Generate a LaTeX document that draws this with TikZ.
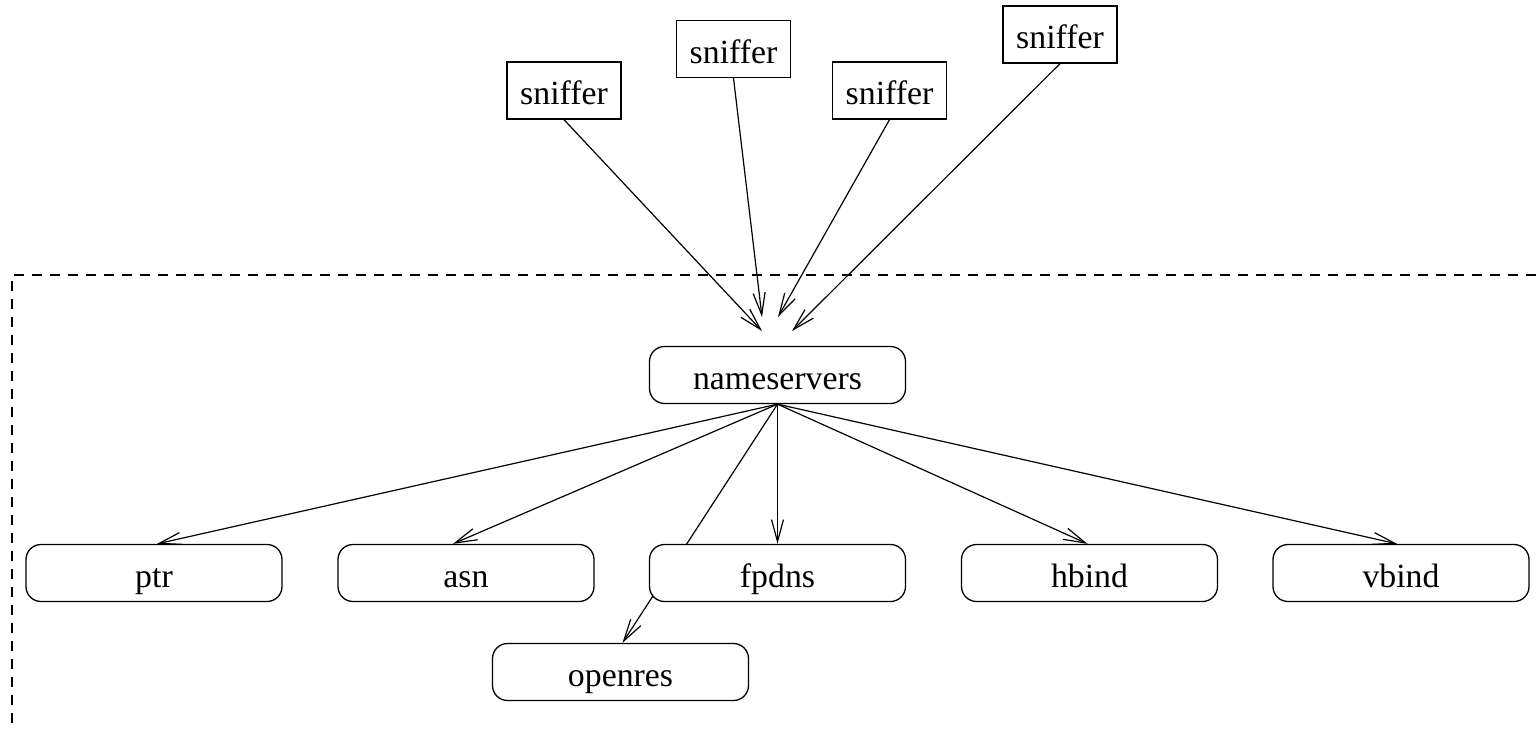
\documentclass[tikz,border=0pt]{standalone}
\usepackage{fontspec}
\setmainfont{Liberation Serif}
\usetikzlibrary{arrows.meta}
\pgfdeclarelayer{background}
\pgfsetlayers{background,main}
\begin{document}
\begin{tikzpicture}[x=0.5pt,y=-0.5pt,
  every node/.style={font=\fontsize{16.9}{19}\selectfont, inner sep=0pt, line width=0.65pt,
    text height=15pt, text depth=1pt},
  snif/.style={draw, fill=white, minimum width=57pt, minimum height=28.5pt},
  proc/.style={draw, fill=white, rounded corners=7.5pt, minimum width=128pt, minimum height=28.5pt},
  conn/.style={line width=0.6pt, -{Straight Barb[length=11pt,width=6pt,line width=0.6pt]}},
  frame/.style={line width=0.6pt, dash pattern=on 5pt off 4pt}]
\useasboundingbox (0,0) rectangle (1536,728);
% sniffers
\node[snif] (s1) at (564,90.5) {sniffer};
\node[snif] (s2) at (733.5,49) {sniffer};
\node[snif] (s3) at (889.5,90.5) {sniffer};
\node[snif] (s4) at (1060,34.5) {sniffer};
% processing nodes
\node[proc] (ns) at (777.5,375) {nameservers};
\node[proc] (ptr) at (154,573) {ptr};
\node[proc] (asn) at (466,573) {asn};
\node[proc] (fpdns) at (777.5,573) {fpdns};
\node[proc] (hbind) at (1089.5,573) {hbind};
\node[proc] (vbind) at (1401,573) {vbind};
\node[proc] (openres) at (620.5,672) {openres};
% free ends of sniffer arrows
\coordinate (t1) at (762,331);
\coordinate (t2) at (762,317);
\coordinate (t3) at (778,317);
\coordinate (t4) at (792,331);
\coordinate (fa) at (1536,275);
\coordinate (fb) at (12,275);
\coordinate (fc) at (12,728);
\draw[frame] (fa) -- (fb) -- (fc);
\draw[conn] (s1.south) -- (t1);
\draw[conn] (s2.south) -- (t2);
\draw[conn] (s3.south) -- (t3);
\draw[conn] (s4.south) -- (t4);
\begin{pgfonlayer}{background}
\draw[conn] (ns.south) -- ([xshift=1.5pt]ptr.north);
\draw[conn] (ns.south) -- ([xshift=-6.5pt]asn.north);
\draw[conn] (ns.south) -- (fpdns.north);
\draw[conn] (ns.south) -- ([xshift=-1pt]hbind.north);
\draw[conn] (ns.south) -- ([xshift=-2pt]vbind.north);
\draw[conn] (ns.south) -- ([xshift=1pt]openres.north);
\end{pgfonlayer}
\end{tikzpicture}
\end{document}
